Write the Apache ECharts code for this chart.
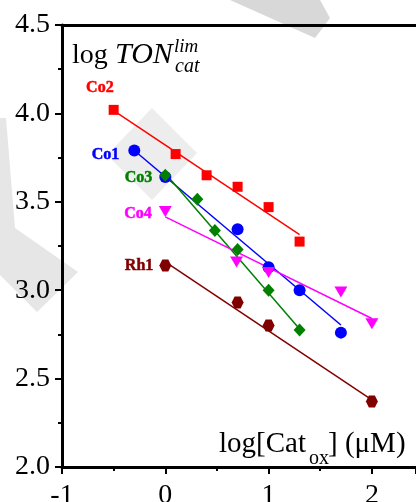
<!DOCTYPE html>
<html>
<head>
<meta charset="utf-8">
<script src="https://cdn.jsdelivr.net/npm/echarts@6/dist/echarts.min.js"></script>
<style>
html,body{margin:0;padding:0;background:#fff;}
#c{width:416px;height:502px;}
</style>
</head>
<body>
<div id="c"></div>
<script>
// ---- data ----
const co2X = [-0.5, 0.1, 0.4, 0.7, 1.0, 1.3];
const co2Y = [4.02, 3.77, 3.65, 3.585, 3.47, 3.275];
const co1X = [-0.3, 0.0, 0.7, 1.0, 1.3, 1.7];
const co1Y = [3.79, 3.64, 3.345, 3.13, 3.0, 2.76];
const co3X = [0.0, 0.31, 0.48, 0.7, 1.0, 1.3];
const co3Y = [3.65, 3.515, 3.337, 3.23, 3.0, 2.775];
const co4X = [0.0, 0.69, 1.0, 1.7, 2.0];
const co4Y = [3.445, 3.16, 3.10, 2.99, 2.81];
const rh1X = [0.0, 0.7, 1.0, 2.0];
const rh1Y = [3.14, 2.93, 2.80, 2.37];
// fitted lines: [x0, x1], [y0, y1]
const co2FitX = [-0.5, 1.3], co2FitY = [4.015, 3.315];
const co1FitX = [-0.3, 1.7], co1FitY = [3.79, 2.803];
const co3FitX = [0.0, 1.3],  co3FitY = [3.66, 2.78];
const co4FitX = [0.0, 2.0],  co4FitY = [3.415, 2.84];
const rh1FitX = [0.0, 2.0],  rh1FitY = [3.16, 2.38];
const names = ['Co2', 'Co1', 'Co3', 'Co4', 'Rh1'];
const colors = ['#ff0000', '#0000ff', '#008000', '#ff00ff', '#800000'];
const yTicks = [2.0, 2.5, 3.0, 3.5, 4.0, 4.5];
const xMin = -1, xMax = 2.427;

const zip = (xs, ys) => xs.map((x, i) => [x, ys[i]]);
const serif = 'Liberation Serif, Times New Roman, serif';
const hex = 'path://M0,5L2.5,0.67L7.5,0.67L10,5L7.5,9.33L2.5,9.33Z';

const pts = [zip(co2X, co2Y), zip(co1X, co1Y), zip(co3X, co3Y), zip(co4X, co4Y), zip(rh1X, rh1Y)];
const fits = [zip(co2FitX, co2FitY), zip(co1FitX, co1FitY), zip(co3FitX, co3FitY), zip(co4FitX, co4FitY), zip(rh1FitX, rh1FitY)];
const symbols = ['rect', 'circle', 'diamond', 'triangle', hex];
const symSizes = [10, 12, [12, 13], [13, 11], 12];
const symRot = [0, 0, 0, 180, 0];
const labelOffsets = [[14, -22], [0, 4], [2, 3], [2, 2], [3, 0]];

const series = [];
names.forEach((n, i) => {
  series.push({
    type: 'line', data: fits[i], showSymbol: false, symbol: 'none',
    lineStyle: { color: colors[i], width: 1.5 }, silent: true, z: 2
  });
});
names.forEach((n, i) => {
  series.push({
    type: 'scatter', name: n, data: pts[i].map((p, j) => j === 0 ? {
      value: p,
      label: {
        show: true, position: 'left', distance: 9, formatter: n,
        offset: labelOffsets[i],
        color: colors[i], fontFamily: serif, fontWeight: 'bold', fontSize: 16,
        textBorderColor: colors[i], textBorderWidth: 0.5
      }
    } : p),
    symbol: symbols[i], symbolSize: symSizes[i], symbolRotate: symRot[i],
    itemStyle: { color: colors[i], opacity: 1 }, z: 3
  });
});

const chart = echarts.init(document.getElementById('c'));
chart.setOption({
  animation: false,
  backgroundColor: '#fff',
  grid: { left: 62, top: 25, bottom: 35, right: 0, containLabel: false, outerBoundsMode: 'none' },
  xAxis: [{
    type: 'value', min: xMin, max: xMax, interval: 1, position: 'bottom',
    axisLine: { show: true, onZero: false, lineStyle: { color: '#000', width: 3 } },
    axisTick: { show: true, inside: false, length: 7, lineStyle: { color: '#000', width: 2 } },
    minorTick: { show: true, splitNumber: 2, length: 4, lineStyle: { color: '#000', width: 2 } },
    splitLine: { show: false },
    axisLabel: { color: '#000', fontFamily: serif, fontSize: 28, margin: 15, showMaxLabel: false }
  }, {
    type: 'value', min: xMin, max: xMax, interval: 1, position: 'top',
    axisLine: { show: true, onZero: false, lineStyle: { color: '#000', width: 3 } },
    axisTick: { show: false }, axisLabel: { show: false }, splitLine: { show: false }
  }],
  yAxis: {
    type: 'value', min: yTicks[0], max: yTicks[yTicks.length - 1], interval: 0.5,
    axisLine: { show: true, onZero: false, lineStyle: { color: '#000', width: 3 } },
    axisTick: { show: true, inside: false, length: 7, lineStyle: { color: '#000', width: 2 } },
    minorTick: { show: true, splitNumber: 2, length: 4, lineStyle: { color: '#000', width: 2 } },
    splitLine: { show: false },
    axisLabel: { color: '#000', fontFamily: serif, fontSize: 28, margin: 12, formatter: v => v.toFixed(1) }
  },
  graphic: [
    // faint watermark
    { type: 'polygon', z: -10, shape: { points: [[230,0],[320,0],[330,18],[315,38]] }, style: { fill: '#d8d8d8' } },
    { type: 'polygon', z: -10, shape: { points: [[0,118],[6,118],[15,228],[78,272],[37,312],[0,275]] }, style: { fill: '#e6e6e6' } },
    { type: 'polygon', z: -10, shape: { points: [[152,108],[197,153],[152,200],[107,155]] }, style: { fill: '#ededed' } },
    // y-axis title
    { type: 'text', left: 72, top: 42, z: 10, style: { text: 'log', font: '28px ' + serif, fill: '#000' } },
    { type: 'text', left: 115, top: 40, z: 10, style: { text: 'TON', font: 'italic 30px ' + serif, fill: '#000' } },
    { type: 'text', left: 174, top: 37, z: 10, style: { text: 'lim', font: 'italic 19px ' + serif, fill: '#000' } },
    { type: 'text', left: 175, top: 57, z: 10, style: { text: 'cat', font: 'italic 20px ' + serif, fill: '#000' } },
    // x-axis title
    { type: 'text', left: 219, top: 430, z: 10, style: { text: 'log[Cat', font: '29px ' + serif, fill: '#000' } },
    { type: 'text', left: 309, top: 449, z: 10, style: { text: 'ox', font: '20px ' + serif, fill: '#000' } },
    { type: 'text', left: 328, top: 430, z: 10, style: { text: '] (\u03bcM)', font: '29px ' + serif, fill: '#000' } }
  ],
  series: series
});
</script>
</body>
</html>
